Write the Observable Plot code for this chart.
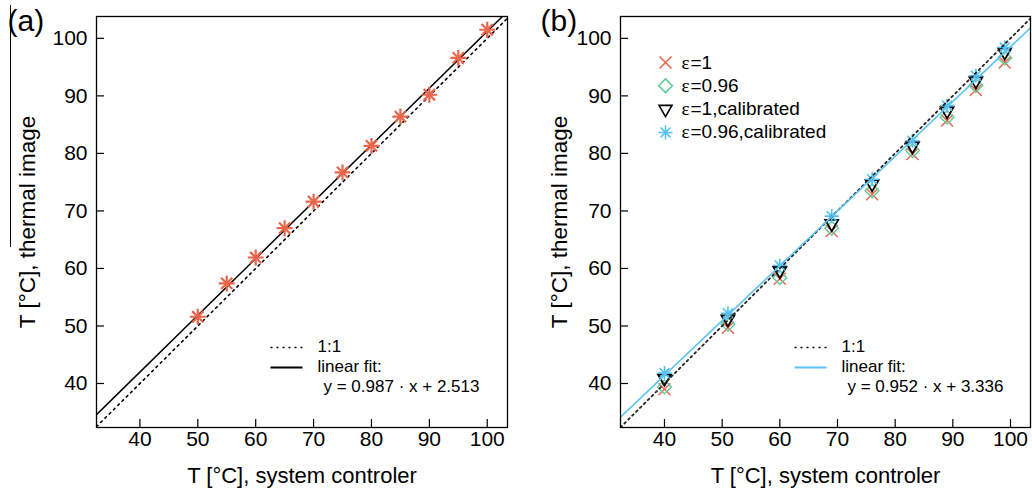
<!DOCTYPE html>
<html><head><meta charset="utf-8">
<script src="https://cdn.jsdelivr.net/npm/d3@7"></script>
<script src="https://cdn.jsdelivr.net/npm/@observablehq/plot@0.6"></script>
<style>
body{margin:0;background:#fff;}
#wrap{display:flex;width:1032px;height:490px;position:relative;overflow:hidden;}
#wrap > div{width:516px;height:490px;}
#artifact{position:absolute;left:10px;top:5px;width:1px !important;height:242px !important;background:#000;}
</style></head><body>
<div id="wrap"><div id="a"></div><div id="b"></div><div id="artifact"></div></div>
<script>
// ---- data ----
const ticks = [40, 50, 60, 70, 80, 90, 100];
const xLabel = "T [°C], system controler";
const yLabel = "T [°C], thermal image";

// panel (a)
const aX = [50, 55, 60, 65, 70, 75, 80, 85, 90, 95, 100];
const aY = [51.6, 57.4, 61.9, 67.0, 71.6, 76.7, 81.3, 86.4, 90.2, 96.6, 101.5];
const aFit = {slope: 0.987, intercept: 2.513, text: "y = 0.987 · x + 2.513"};

// panel (b)
const bX = [40, 51, 60, 69, 76, 83, 89, 94, 99];
const bE1 = [39.0, 49.7, 58.2, 66.5, 72.9, 79.9, 85.7, 91.0, 95.8];
const bE096 = [39.4, 50.3, 58.4, 67.0, 73.5, 80.5, 86.3, 91.8, 96.6];
const bE1cal = [40.9, 51.2, 59.6, 67.8, 74.7, 81.3, 87.4, 92.6, 97.6];
const bE096cal = [41.8, 52.2, 60.5, 69.1, 75.5, 82.2, 88.3, 93.5, 98.4];
const bFit = {slope: 0.952, intercept: 3.336, text: "y = 0.952 · x + 3.336"};
const seriesNames = ["=1", "=0.96", "=1,calibrated", "=0.96,calibrated"];

// ---- style ----
const font = "Liberation Sans, Arial, Helvetica, sans-serif";
const cOrange = "#E9654B", cGreen = "#5FCB9C", cBlue = "#52C0F4", cFit = "#5BC3F3";
const yDomain = [32.35, 103.8];

const lineSym = {draw(ctx) { ctx.moveTo(-16, 0); ctx.lineTo(16, 0); }};

function pts(xs, ys) { return xs.map((x, i) => ({x, y: ys[i]})); }
function fitLine(f, dom) { return dom.map(x => ({x, y: f.slope * x + f.intercept})); }

function asterisk(data, opts) {
  return [
    Plot.dot(data, {x: "x", y: "y", symbol: "plus", ...opts}),
    Plot.dot(data, {x: "x", y: "y", symbol: "times", ...opts})
  ];
}

const T = {lineAnchor: "middle"};

function bottomLegend(fit, fitColor) {
  const fa = "top-left";
  return [
    Plot.dot([0], {frameAnchor: fa, dx: 190, dy: 331, symbol: lineSym, r: 5, stroke: "black", strokeWidth: 1.6, strokeDasharray: "2,4"}),
    Plot.dot([0], {frameAnchor: fa, dx: 190, dy: 351, symbol: lineSym, r: 5, stroke: fitColor, strokeWidth: 1.8}),
    Plot.text(["1:1"], {...T, frameAnchor: fa, dx: 221, dy: 330, textAnchor: "start", fontSize: 17}),
    Plot.text(["linear fit:"], {...T, frameAnchor: fa, dx: 221, dy: 350, textAnchor: "start", fontSize: 17}),
    Plot.text([fit.text], {...T, frameAnchor: fa, dx: 227, dy: 370, textAnchor: "start", fontSize: 17})
  ];
}

function panel({xDomain, marginLeft, marginRight, tag, tagX, yLabelX, marks}) {
  return Plot.plot({
    width: 516, height: 490,
    marginLeft, marginRight, marginTop: 16, marginBottom: 63,
    style: {fontFamily: font, fontSize: "21px", color: "black", background: "white", overflow: "visible"},
    x: {domain: xDomain, ticks},
    y: {domain: yDomain, ticks},
    marks: [
      Plot.axisX(ticks, {anchor: "bottom", tickSize: -8, tickPadding: 12, label: null, fontSize: 21, tickFormat: d => d, strokeWidth: 1.2}),
      Plot.axisY(ticks, {anchor: "left", tickSize: -8, tickPadding: 17, label: null, fontSize: 21, tickFormat: d => d, strokeWidth: 1.2}),
      ...marks,
      Plot.frame({stroke: "black", strokeWidth: 1.3}),
      Plot.text([xLabel], {...T, frameAnchor: "bottom", textAnchor: "middle", dy: 48, fontSize: 22}),
      Plot.text([yLabel], {...T, frameAnchor: "left", textAnchor: "middle", dx: yLabelX - marginLeft, rotate: -90, fontSize: 22.5}),
      Plot.text([tag], {...T, frameAnchor: "top-left", dx: tagX - marginLeft, dy: 5, textAnchor: "start", fontSize: 30})
    ]
  });
}

// ---- panel (a) ----
const aDom = [32.5, 103.5];
const plotA = panel({
  xDomain: aDom, marginLeft: 96, marginRight: 9, tag: "(a)", tagX: 7, yLabelX: 27,
  marks: [
    Plot.line(fitLine({slope: 1, intercept: 0}, aDom), {x: "x", y: "y", stroke: "black", strokeWidth: 1.6, strokeDasharray: "2,4", clip: true}),
    Plot.line(fitLine(aFit, aDom), {x: "x", y: "y", stroke: "black", strokeWidth: 1.5, clip: true}),
    ...asterisk(pts(aX, aY), {stroke: cOrange, strokeWidth: 2.2, r: 5.2}),
    ...bottomLegend(aFit, "black")
  ]
});

// ---- panel (b) ----
const bDom = [32.37, 103.47];
const legendSym = [
  {symbol: "times", stroke: cOrange, r: 5.5},
  {symbol: "diamond2", stroke: cGreen, r: 6.2},
  {symbol: "triangle2", stroke: "black", r: 6.2, rotate: 180},
  {symbol: "asterisk", stroke: cBlue, r: 4.6}
];
const legendMarks = [];
legendSym.forEach((s, i) => {
  const dy = 46 + 23.3 * i;
  if (s.symbol === "asterisk") {
    legendMarks.push(Plot.dot([0], {frameAnchor: "top-left", dx: 45, dy, symbol: "plus", r: s.r, stroke: s.stroke, strokeWidth: 1.5}));
    legendMarks.push(Plot.dot([0], {frameAnchor: "top-left", dx: 45, dy, symbol: "times", r: s.r, stroke: s.stroke, strokeWidth: 1.5}));
  } else {
    legendMarks.push(Plot.dot([0], {frameAnchor: "top-left", dx: 45, dy, symbol: s.symbol, r: s.r, rotate: s.rotate || 0, stroke: s.stroke, fill: "none", strokeWidth: 1.6}));
  }
  legendMarks.push(Plot.text(["ε"], {...T, frameAnchor: "top-left", dx: 61, dy, textAnchor: "start", fontSize: 19, fontFamily: "Liberation Serif, Times New Roman, serif"}));
  legendMarks.push(Plot.text([seriesNames[i]], {...T, frameAnchor: "top-left", dx: 70, dy, textAnchor: "start", fontSize: 19}));
});

const plotB = panel({
  xDomain: bDom, marginLeft: 104, marginRight: 2, tag: "(b)", tagX: 24, yLabelX: 43,
  marks: [
    Plot.dot(pts(bX, bE1), {x: "x", y: "y", symbol: "times", r: 5.5, stroke: cOrange, strokeWidth: 1.4}),
    Plot.dot(pts(bX, bE096), {x: "x", y: "y", symbol: "diamond2", r: 6.2, stroke: cGreen, fill: "none", strokeWidth: 1.4}),
    Plot.dot(pts(bX, bE1cal), {x: "x", y: "y", symbol: "triangle2", rotate: 180, r: 6.2, stroke: "black", fill: "none", strokeWidth: 1.8}),
    ...asterisk(pts(bX, bE096cal), {stroke: cBlue, strokeWidth: 1.6, r: 4.6}),
    Plot.line(fitLine({slope: 1, intercept: 0}, bDom), {x: "x", y: "y", stroke: "#222", strokeWidth: 1.8, strokeDasharray: "2,3.5", clip: true}),
    Plot.line(fitLine(bFit, bDom), {x: "x", y: "y", stroke: cFit, strokeWidth: 1.6, clip: true}),
    ...legendMarks,
    ...bottomLegend(bFit, cFit)
  ]
});

document.getElementById("a").append(plotA);
document.getElementById("b").append(plotB);
</script>
</body></html>
